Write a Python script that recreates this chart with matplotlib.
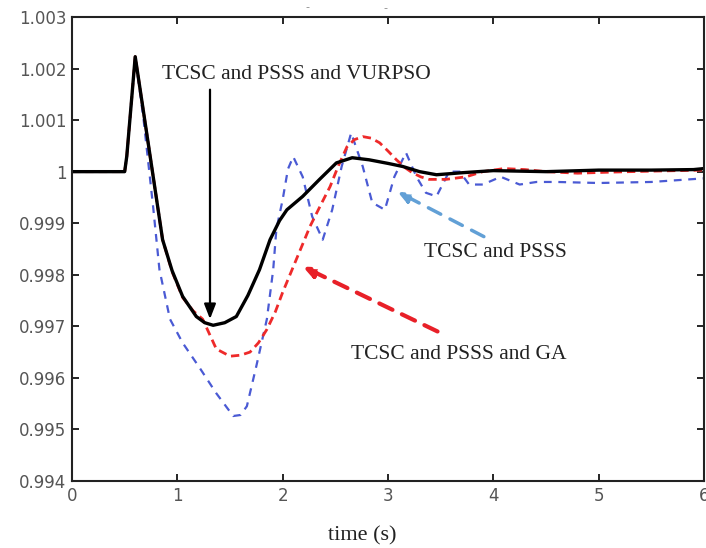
import numpy as np
import matplotlib
matplotlib.use('Agg')
import matplotlib.pyplot as plt

# Speed deviation response
t_vurpso = [0, 0.5, 0.52, 0.60, 0.73, 0.86, 0.95, 1.05, 1.18, 1.26, 1.34, 1.45,
            1.56, 1.67, 1.78, 1.88, 1.97, 2.04, 2.19, 2.35, 2.51, 2.66, 2.82,
            3.0, 3.14, 3.3, 3.46, 3.71, 4.0, 4.5, 5.0, 5.5, 5.9, 6.0]
w_vurpso = [1.0, 1.0, 1.0003, 1.00223, 1.00046, 0.99868, 0.99808, 0.99758,
            0.99719, 0.99707, 0.99702, 0.99707, 0.99719, 0.99760, 0.9981,
            0.99868, 0.99905, 0.99926, 0.99952, 0.99985, 1.00017, 1.00027,
            1.00023, 1.00016, 1.0001, 1.0, 0.99994, 0.99998, 1.00002, 1.0,
            1.00003, 1.00003, 1.00004, 1.00006]

t_ga = [0, 0.5, 0.52, 0.60, 0.73, 0.86, 0.95, 1.05, 1.15, 1.24, 1.37, 1.5, 1.6,
        1.69, 1.77, 1.85, 1.93, 2.0, 2.13, 2.26, 2.36, 2.45, 2.53, 2.61, 2.68,
        2.76, 2.84, 2.92, 3.0, 3.08, 3.16, 3.23, 3.31, 3.39, 3.55, 3.74, 3.9,
        4.1, 4.3, 4.5, 4.8, 5.1, 5.5, 6.0]
w_ga = [1.0, 1.0, 1.0003, 1.00223, 1.00046, 0.99868, 0.99806, 0.99756, 0.9973,
        0.99714, 0.99656, 0.99642, 0.99644, 0.9965, 0.99668, 0.99694, 0.99728,
        0.99766, 0.9983, 0.99894, 0.99935, 0.99971, 1.00012, 1.00048, 1.00062,
        1.00068, 1.00065, 1.00056, 1.0004, 1.00023, 1.00008, 0.99998, 0.9999,
        0.99985, 0.99985, 0.9999, 1.0, 1.00006, 1.00004, 1.0, 0.99997, 0.99999,
        1.00001, 1.00003]

t_pss = [0, 0.5, 0.52, 0.60, 0.68, 0.77, 0.83, 0.93, 1.05, 1.21, 1.37, 1.53,
         1.6, 1.66, 1.75, 1.85, 1.91, 1.94, 2.0, 2.05, 2.1, 2.19, 2.28, 2.38,
         2.47, 2.56, 2.65, 2.76, 2.85, 2.97, 3.06, 3.17, 3.27, 3.36, 3.46, 3.58,
         3.68, 3.77, 3.9, 4.07, 4.25, 4.41, 4.6, 5.0, 5.5, 6.0]
w_pss = [1.0, 1.0, 1.0003, 1.00223, 1.001, 0.99932, 0.9981, 0.99714, 0.99668,
         0.9962, 0.9957, 0.99526, 0.99528, 0.99545, 0.99623, 0.99714, 0.9981,
         0.99888, 0.99946, 1.00005, 1.00029, 0.9999, 0.99913, 0.99868, 0.99926,
         1.0001, 1.00075, 1.0001, 0.9994, 0.99926, 0.9999, 1.00037, 0.9999,
         0.99959, 0.99952, 1.0, 1.0, 0.99975, 0.99975, 0.9999, 0.99975, 0.9998,
         0.9998, 0.99978, 0.9998, 0.99987]

xticks = [0, 1, 2, 3, 4, 5, 6]
yticks = [0.994, 0.995, 0.996, 0.997, 0.998, 0.999, 1.0, 1.001, 1.002, 1.003]
ytick_labels = ['0.994', '0.995', '0.996', '0.997', '0.998', '0.999', '1',
                '1.001', '1.002', '1.003']

fig = plt.figure(figsize=(7.06, 5.48), dpi=100)
ax = fig.add_axes([0.102, 0.1223, 0.8952, 0.8467])

ax.plot(t_pss, w_pss, color='#4a5ad4', lw=1.6, linestyle=(0, (3.5, 3)))
ax.plot(t_ga, w_ga, color='#ee2a2a', lw=2.0, linestyle=(0, (3, 1.8)))
ax.plot(t_vurpso, w_vurpso, color='black', lw=2.4)

ax.set_xlim(0, 6)
ax.set_ylim(0.994, 1.003)
ax.set_xticks(xticks)
ax.set_yticks(yticks)
ax.set_yticklabels(ytick_labels)
ax.tick_params(direction='in', top=True, right=True, length=5, width=1.2,
               labelsize=12, labelcolor='#555555', pad=4)
for s in ax.spines.values():
    s.set_linewidth(1.5)
    s.set_color('#222222')

serif = 'Liberation Serif'

# annotations
ax.annotate('', xy=(1.31, 0.99714), xytext=(1.31, 1.00159),
            arrowprops=dict(arrowstyle='-|>,head_length=0.9,head_width=0.35',
                            color='black', lw=1.6, shrinkA=0, shrinkB=0))
ax.text(0.85, 1.00188, 'TCSC and PSSS and VURPSO', family=serif, fontsize=15.5,
        color='#222222', va='center')

ax.annotate('', xy=(3.09, 0.99961), xytext=(3.91, 0.99874),
            arrowprops=dict(arrowstyle='-|>,head_length=0.7,head_width=0.3',
                            color='#62a0d6', lw=2.5, linestyle=(0, (4, 3)),
                            shrinkA=0, shrinkB=0))
ax.text(3.34, 0.99843, 'TCSC and PSSS', family=serif, fontsize=15.5,
        color='#222222', va='center')

ax.annotate('', xy=(2.19, 0.99816), xytext=(3.47, 0.9969),
            arrowprops=dict(arrowstyle='-|>,head_length=0.7,head_width=0.3',
                            color='#e82028', lw=3, linestyle=(0, (3.5, 2.5)),
                            shrinkA=0, shrinkB=0))
ax.text(2.645, 0.99646, 'TCSC and PSSS and GA', family=serif, fontsize=15.5,
        color='#222222', va='center')

fig.text(362 / 706, 1 - 536 / 548, 'time (s)', family=serif, fontsize=16,
         color='#222222', ha='center', va='center')
fig.text(307 / 706, 1 - 7 / 548, '-', fontsize=8, color='#888888',
         ha='center', va='center')
fig.text(385 / 706, 1 - 8 / 548, '-', fontsize=8, color='#888888',
         ha='center', va='center')

fig.savefig('out.png', dpi=100)
